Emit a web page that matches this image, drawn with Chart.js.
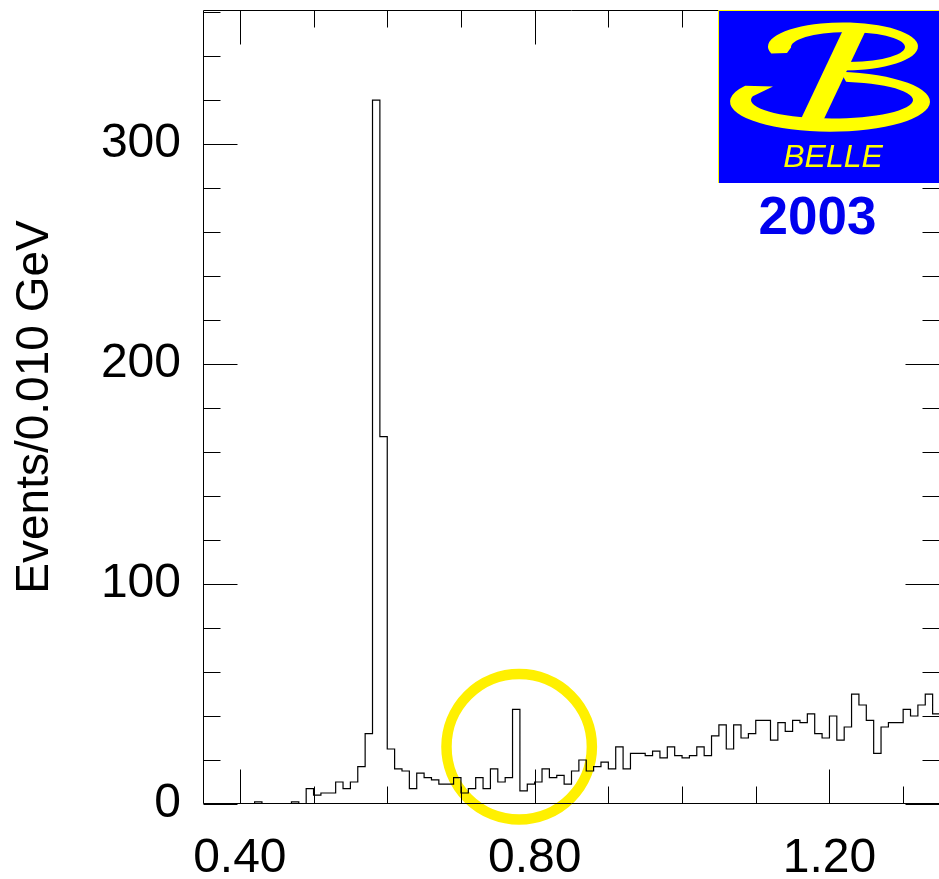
<!DOCTYPE html>
<html>
<head>
<meta charset="utf-8">
<script src="https://cdn.jsdelivr.net/npm/chart.js@4.4.1/dist/chart.umd.min.js"></script>
<style>
  html, body { margin: 0; padding: 0; background: #fff; overflow: hidden; width: 939px; height: 879px; }
  canvas { display: block; }
</style>
</head>
<body>
<canvas id="c" width="950" height="879"></canvas>
<script>
// Mass spectrum in 0.010 GeV bins, first bin starts at 0.35 GeV
const binStart = 0.35;
const binWidth = 0.010;
const counts = [
  0, 0, 0, 0, 0, 0, 0, 1, 0, 0,
  0, 0, 1, 0, 7, 4, 5, 5, 10, 7,
  10, 17, 32, 320, 167, 25, 16, 15, 7, 14,
  12, 11, 9, 9, 12, 5, 7, 12, 7, 16,
  10, 12, 43, 6, 9, 10, 16, 12, 13, 9,
  15, 20, 15, 17, 19, 16, 26, 16, 23, 23,
  22, 24, 21, 26, 22, 21, 22, 26, 22, 31,
  36, 25, 36, 30, 32, 38, 38, 29, 37, 33,
  38, 37, 41, 32, 30, 40, 29, 35, 50, 45,
  38, 23, 35, 37, 37, 43, 40, 45, 50, 41
];
const xTickLabels = [0.40, 0.80, 1.20];
const yTickLabels = [0, 100, 200, 300];
const xMinorStep = 0.1;
const yMinorStep = 20;
const yAxisTitle = 'Events/0.010 GeV';
const logoWord = 'BELLE';
const logoYear = '2003';
// highlighted region (mass, events) around the narrow peak
const ringCentre = [0.779, 26];

const FONT = "'Liberation Sans', Arial, Helvetica, sans-serif";

// outline points: left edge of every bin, plus the right edge of the last bin
const outline = counts.map((c, i) => ({ x: binStart + i * binWidth, y: c }));
outline.push({ x: binStart + counts.length * binWidth, y: counts[counts.length - 1] });

// frame with inward ticks on all four sides
const framePlugin = {
  id: 'frame',
  afterDatasetsDraw(chart) {
    const { ctx, chartArea: a, scales: { x, y } } = chart;
    ctx.save();
    ctx.strokeStyle = '#000';
    ctx.lineWidth = 1;
    const L = Math.round(a.left) + 0.5, R = Math.round(a.right) - 0.5;
    const T = Math.round(a.top) + 0.5, B = Math.round(a.bottom) - 0.5;
    ctx.beginPath();
    ctx.rect(L, T, R - L, B - T);
    ctx.stroke();
    const major = 34, minor = 17;
    ctx.beginPath();
    for (let v = 0.4; v < x.max + 1e-9; v += xMinorStep) {
      const px = Math.round(x.getPixelForValue(v)) + 0.5;
      const isMajor = xTickLabels.some(t => Math.abs(t - v) < 1e-6);
      const len = isMajor ? major : minor;
      ctx.moveTo(px, B); ctx.lineTo(px, B - len);
      ctx.moveTo(px, T); ctx.lineTo(px, T + len);
    }
    for (let v = 0; v <= y.max; v += yMinorStep) {
      const py = Math.round(y.getPixelForValue(v)) + 0.5;
      const isMajor = v % 100 === 0;
      const len = isMajor ? major : minor;
      ctx.moveTo(L, py); ctx.lineTo(L + len, py);
      ctx.moveTo(R, py); ctx.lineTo(R - len, py);
    }
    ctx.stroke();
    ctx.restore();
  }
};

// yellow ring drawn beneath the histogram
const ringPlugin = {
  id: 'ring',
  beforeDatasetsDraw(chart) {
    const { ctx, scales: { x, y } } = chart;
    ctx.save();
    ctx.strokeStyle = '#FFF000';
    ctx.lineWidth = 10.5;
    ctx.beginPath();
    ctx.arc(x.getPixelForValue(ringCentre[0]), y.getPixelForValue(ringCentre[1]), 72.7, 0, Math.PI * 2);
    ctx.stroke();
    ctx.restore();
  }
};

// experiment emblem in the upper right corner
const logoPlugin = {
  id: 'logo',
  afterDraw(chart) {
    const ctx = chart.ctx;
    const d = Math.PI / 180;
    ctx.save();
    ctx.fillStyle = '#0000FF';
    ctx.fillRect(718, 10, 240, 173);
    ctx.strokeStyle = '#FFFF00';
    ctx.lineWidth = 1;
    ctx.beginPath();
    ctx.moveTo(718.5, 183); ctx.lineTo(718.5, 10.5); ctx.lineTo(950, 10.5);
    ctx.stroke();

    ctx.fillStyle = '#FFFF00';
    // upper bowl
    ctx.beginPath();
    ctx.ellipse(843, 46.5, 75, 24, 0, 163 * d, 452 * d, false);
    ctx.ellipse(848, 47, 57, 15, 0, 458 * d, 178 * d, true);
    ctx.lineTo(787, 53);
    ctx.closePath();
    ctx.fill();
    // lower bowl
    ctx.beginPath();
    ctx.ellipse(830, 101.7, 100, 30, 0, -84 * d, 212 * d, false);
    ctx.lineTo(773, 86.5);
    ctx.ellipse(832, 100, 81, 18.5, 0, 192 * d, -80 * d, true);
    ctx.closePath();
    ctx.fill();
    // slanted stem
    ctx.beginPath();
    ctx.moveTo(843, 30); ctx.lineTo(866, 30);
    ctx.lineTo(823, 121); ctx.lineTo(800, 121);
    ctx.closePath();
    ctx.fill();

    ctx.textAlign = 'center';
    ctx.textBaseline = 'alphabetic';
    ctx.font = 'italic 32px ' + FONT;
    ctx.fillText(logoWord, 833, 166.5);

    ctx.fillStyle = '#0000EE';
    ctx.font = 'bold 53px ' + FONT;
    ctx.fillText(logoYear, 817.5, 234);
    ctx.restore();
  }
};

new Chart(document.getElementById('c'), {
  type: 'line',
  data: {
    datasets: [{
      data: outline,
      stepped: 'before',
      borderColor: '#000',
      borderWidth: 1.2,
      pointRadius: 0,
      fill: false
    }]
  },
  options: {
    responsive: false,
    animation: false,
    layout: { padding: { top: 10, right: 10, left: 0, bottom: 0 } },
    plugins: { legend: { display: false }, tooltip: { enabled: false } },
    scales: {
      x: {
        type: 'linear',
        min: binStart,
        max: binStart + counts.length * binWidth,
        grid: { display: false, drawTicks: false },
        border: { display: false },
        afterBuildTicks: s => { s.ticks = xTickLabels.map(v => ({ value: v })); },
        afterFit: s => { s.height = 75; s.paddingLeft = 0; s.paddingRight = 0; },
        ticks: {
          autoSkip: false, maxRotation: 0, padding: 26, color: '#000',
          font: { family: FONT, size: 48 },
          callback: v => Number(v).toFixed(2)
        }
      },
      y: {
        min: 0,
        max: 361,
        grid: { display: false, drawTicks: false },
        border: { display: false },
        afterBuildTicks: s => { s.ticks = yTickLabels.map(v => ({ value: v })); },
        afterFit: s => { s.width = 203; s.paddingTop = 0; s.paddingBottom = 0; },
        ticks: {
          padding: 22, color: '#000',
          font: { family: FONT, size: 48 },
          callback: v => String(v)
        },
        title: {
          display: true, text: yAxisTitle, color: '#000',
          font: { family: FONT, size: 46 },
          padding: { top: 8, bottom: 0 }
        }
      }
    }
  },
  plugins: [ringPlugin, framePlugin, logoPlugin]
});
</script>
</body>
</html>
